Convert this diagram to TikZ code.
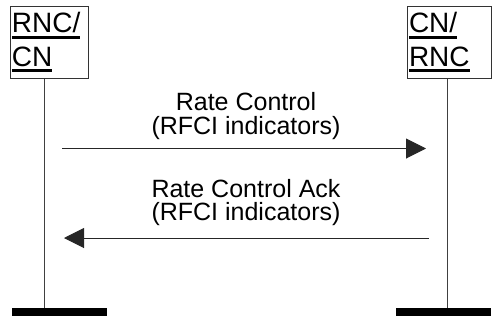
\documentclass[tikz,border=0pt]{standalone}
\usepackage{fontspec}
\setmainfont{Liberation Sans}
\usetikzlibrary{arrows.meta}
\tikzset{>={Triangle[length=20pt,width=20pt]}}
\newcommand{\undertext}[1]{\vtop{\hbox{#1}\kern2.5pt\hrule height 3.4pt}}

\begin{document}
\begin{tikzpicture}[x=1pt,y=-1pt,
	entity/.style={draw=black!80,line width=1pt,anchor=north west,align=left,inner xsep=1.5pt,inner ysep=6.2pt,font=\fontsize{28}{33.3}\selectfont},
	bar/.style={fill=black,anchor=north west,minimum width=95pt,minimum height=8pt,inner sep=0pt},
	life/.style={draw=black!75,line width=1.2pt},
	msg/.style={black!85,line width=1pt,->},
	msglabel/.style={anchor=south,align=center,inner sep=0pt,font=\fontsize{25}{23.6}\selectfont}]
	\useasboundingbox (0,0) rectangle (494,327);
	% entities
	\node[entity,text width=75pt] (rnc) at (10,6) {\undertext{RNC/}\\\undertext{CN}};
	\node[entity,text width=81pt] (cn) at (407,6) {\undertext{CN/}\\\undertext{RNC}};
	% lifelines
	\node[bar] (rncend) at (12,308) {};
	\node[bar] (cnend) at (396,308) {};
	\coordinate (rncl) at (44.7,0);
	\coordinate (cnl) at (447.7,0);
	\draw[life] (rnc.south -| rncl)--(rncend.north -| rncl);
	\draw[life] (cn.south -| cnl)--(cnend.north -| cnl);
	% messages
	\coordinate (m1a) at (62,148.5);
	\coordinate (m1b) at (426,148.5);
	\draw[msg] (m1a)--(m1b);
	\node[msglabel] (l1) at (246,139.6) {Rate Control\\(RFCI indicators)};
	\coordinate (m2a) at (429,238);
	\coordinate (m2b) at (64,238);
	\draw[msg] (m2a)--(m2b);
	\node[msglabel] (l2) at (246,226) {Rate Control Ack\\(RFCI indicators)};
\end{tikzpicture}
\end{document}
